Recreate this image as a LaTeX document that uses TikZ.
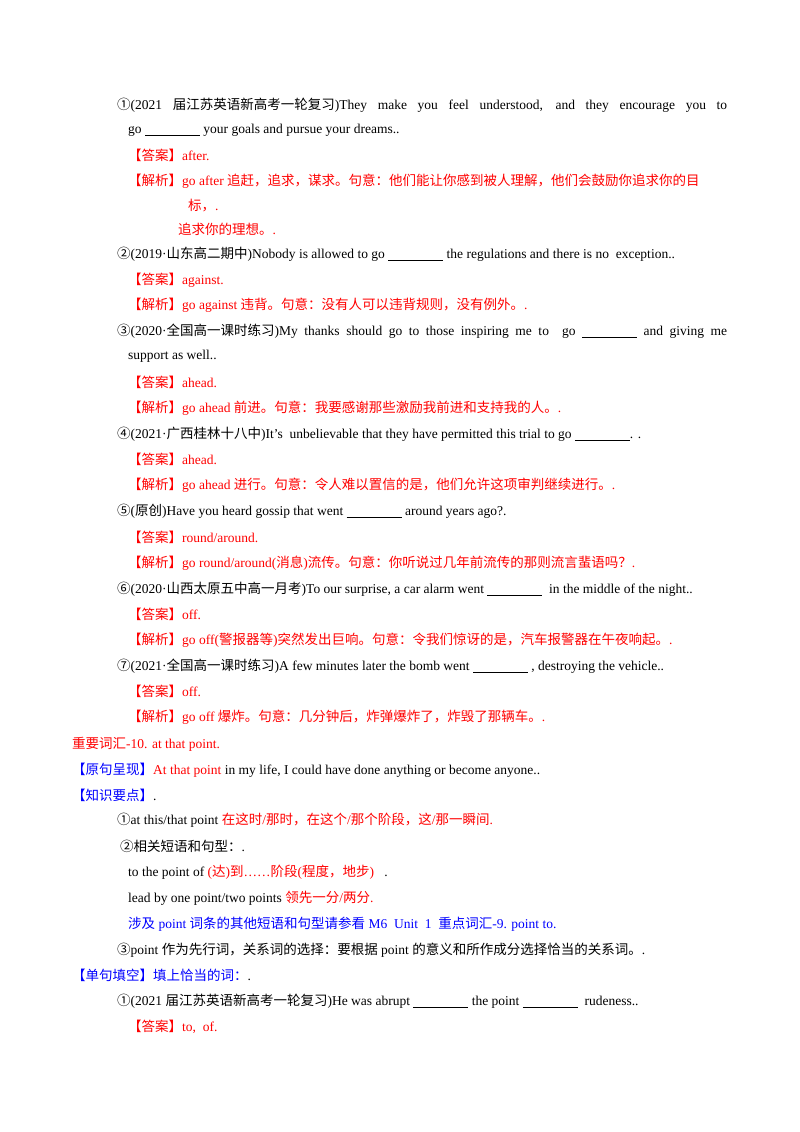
\documentclass[tikz,border=0pt]{standalone}
\usepackage{fontspec}
\setmainfont{Liberation Serif}
\newfontfamily\cjk{Noto Sans CJK SC}
\XeTeXinterchartokenstate=1
\newXeTeXintercharclass\cjkclass
\makeatletter
\count@="4E00 \loop\ifnum\count@<"A000 \XeTeXcharclass\count@=\cjkclass \advance\count@ 1 \repeat
\count@="3000 \loop\ifnum\count@<"3040 \XeTeXcharclass\count@=\cjkclass \advance\count@ 1 \repeat
\count@="FF00 \loop\ifnum\count@<"FFF0 \XeTeXcharclass\count@=\cjkclass \advance\count@ 1 \repeat
\count@="2460 \loop\ifnum\count@<"2474 \XeTeXcharclass\count@=\cjkclass \advance\count@ 1 \repeat
\makeatother
\XeTeXinterchartoks 0 \cjkclass = {\begingroup\cjk}
\XeTeXinterchartoks 4095 \cjkclass = {\begingroup\cjk}
\XeTeXinterchartoks \cjkclass 0 = {\endgroup}
\XeTeXinterchartoks \cjkclass 4095 = {\endgroup}
\newcommand{\blank}{\rule[-2pt]{55pt}{0.6pt}}
\definecolor{ared}{RGB}{255,0,0}
\definecolor{ablue}{RGB}{0,0,255}
\begin{document}
\begin{tikzpicture}[x=1pt,y=-1pt,
  ln/.style={anchor=west,inner sep=0pt,font=\fontsize{13.5}{16}\selectfont},
  rd/.style={ln,text=ared}]
\useasboundingbox[fill=white] (0,0) rectangle (800,1132);
\node[ln] (l1) at (117,105) {\makebox[610pt][s]{①(2021 届江苏英语新高考一轮复习)They make you feel understood, and they encourage you to}};
\node[ln] (l2) at (128,130) {go \blank{} your goals and pursue your dreams..};
\node[rd] (l3) at (128,155) {【答案】after.};
\node[rd] (l4) at (128,181) {【解析】go after 追赶，追求，谋求。句意：他们能让你感到被人理解，他们会鼓励你追求你的目};
\node[rd] (l5) at (188,206) {标，.};
\node[rd] (l6) at (178,229) {追求你的理想。.};
\node[ln] (l7) at (117,254) {②(2019·山东高二期中)Nobody is allowed to go \blank{} the regulations and there is no~ exception..};
\node[rd] (l8) at (128,280) {【答案】against.};
\node[rd] (l9) at (128,305) {【解析】go against 违背。句意：没有人可以违背规则，没有例外。.};
\node[ln] (l10) at (117,331) {\makebox[610pt][s]{③(2020·全国高一课时练习)My thanks should go to those inspiring me to~ go \blank{} and giving me}};
\node[ln] (l11) at (128,356) {support as well..};
\node[rd] (l12) at (128,382) {【答案】ahead.};
\node[rd] (l13) at (128,408) {【解析】go ahead 前进。句意：我要感谢那些激励我前进和支持我的人。.};
\node[ln] (l14) at (117,434) {④(2021·广西桂林十八中)It’s~ unbelievable that they have permitted this trial to go \blank. .};
\node[rd] (l15) at (128,459) {【答案】ahead.};
\node[rd] (l16) at (128,485) {【解析】go ahead 进行。句意：令人难以置信的是，他们允许这项审判继续进行。.};
\node[ln] (l17) at (117,511) {⑤(原创)Have you heard gossip that went \blank{} around years ago?.};
\node[rd] (l18) at (128,537) {【答案】round/around.};
\node[rd] (l19) at (128,563) {【解析】go round/around(消息)流传。句意：你听说过几年前流传的那则流言蜚语吗？.};
\node[ln] (l20) at (117,589) {⑥(2020·山西太原五中高一月考)To our surprise, a car alarm went \blank{}~ in the middle of the night..};
\node[rd] (l21) at (128,614) {【答案】off.};
\node[rd] (l22) at (128,640) {【解析】go off(警报器等)突然发出巨响。句意：令我们惊讶的是，汽车报警器在午夜响起。.};
\node[ln] (l23) at (117,666) {⑦(2021·全国高一课时练习)A few minutes later the bomb went \blank{} , destroying the vehicle..};
\node[rd] (l24) at (128,691) {【答案】off.};
\node[rd] (l25) at (128,717) {【解析】go off 爆炸。句意：几分钟后，炸弹爆炸了，炸毁了那辆车。.};
\node[rd] (l26) at (72,744) {重要词汇-10. at that point.};
\node[ln] (l27) at (72,770) {{\color{ablue}【原句呈现】}{\color{ared}At that point} in my life, I could have done anything or become anyone..};
\node[ln] (l28) at (72,795) {{\color{ablue}【知识要点】}.};
\node[ln] (l29) at (117,820) {①at this/that point {\color{ared}在这时/那时，在这个/那个阶段，这/那一瞬间.}};
\node[ln] (l30) at (120,846) {②相关短语和句型：.};
\node[ln] (l31) at (128,872) {to the point of {\color{ared}(达)到……阶段(程度，地步)}~~ .};
\node[ln] (l32) at (128,898) {lead by one point/two points {\color{ared}领先一分/两分.}};
\node[ln,text=ablue] (l33) at (128,924) {涉及 point 词条的其他短语和句型请参看 M6~ Unit~ 1~ 重点词汇-9. point to.};
\node[ln] (l34) at (117,950) {③point 作为先行词，关系词的选择：要根据 point 的意义和所作成分选择恰当的关系词。.};
\node[ln] (l35) at (72,975) {{\color{ablue}【单句填空】填上恰当的词：}.};
\node[ln] (l36) at (117,1001) {①(2021 届江苏英语新高考一轮复习)He was abrupt \blank{} the point \blank{}~ rudeness..};
\node[rd] (l37) at (128,1027) {【答案】to,~ of.};
\end{tikzpicture}
\end{document}
